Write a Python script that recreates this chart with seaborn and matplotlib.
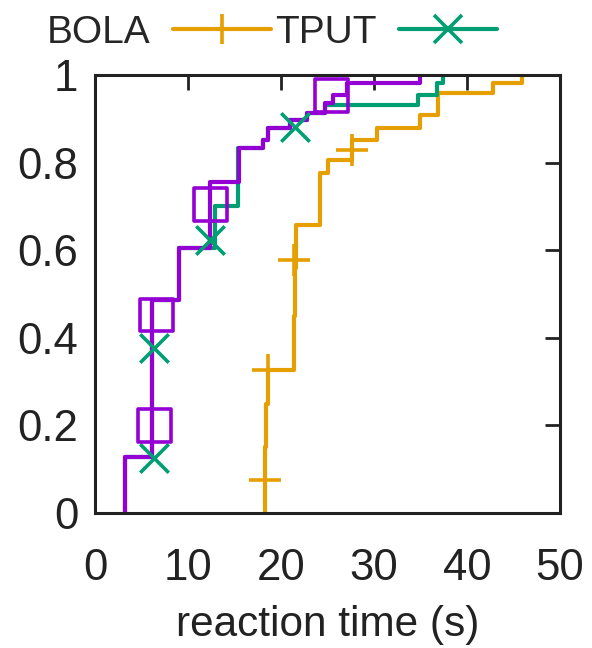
import matplotlib
matplotlib.use("Agg")
import matplotlib.pyplot as plt
from matplotlib.lines import Line2D
from matplotlib.ticker import FuncFormatter
import seaborn as sns

# step CDFs: at each x the curve jumps to the given y (steps-post)
bola_x = [18.3, 18.3, 18.4, 18.6, 21.4, 21.5, 21.6, 24.2, 25.1, 27.6, 30.3, 34.9, 36.9, 42.8, 45.9]
bola_y = [0.0, 0.15, 0.25, 0.326, 0.45, 0.56, 0.658, 0.776, 0.806, 0.852, 0.879, 0.909, 0.959, 0.982, 1.0]
tput_x = [3.2, 3.2, 6.1, 9.0, 12.9, 15.4, 18.1, 18.6, 21.0, 22.8, 24.7, 34.7, 36.8, 37.4]
tput_y = [0.0, 0.128, 0.486, 0.605, 0.70, 0.833, 0.852, 0.879, 0.897, 0.913, 0.932, 0.954, 0.982, 1.0]
third_x = [3.2, 3.2, 6.1, 9.0, 12.4, 15.5, 18.1, 18.6, 21.0, 22.8, 24.7, 25.6, 27.1, 34.9]
third_y = [0.0, 0.128, 0.486, 0.605, 0.756, 0.833, 0.852, 0.879, 0.897, 0.913, 0.936, 0.954, 0.982, 1.0]

# marker points (gnuplot pointinterval)
bola_mx = [18.3, 18.6, 21.4, 27.6]
bola_my = [0.075, 0.326, 0.578, 0.829]
tput_mx = [6.3, 6.3, 12.4, 21.5]
tput_my = [0.126, 0.377, 0.623, 0.882]
third_mx = [6.4, 6.6, 12.4, 25.4]
third_my = [0.20, 0.452, 0.705, 0.953]

xticks = [0, 10, 20, 30, 40, 50]
yticks = [0, 0.2, 0.4, 0.6, 0.8, 1]

c_bola = '#E69F00'
c_tput = '#009E73'
c_third = '#9400D3'
lw = 3.0

sns.set_style('white')
plt.rcParams['font.family'] = ['Liberation Sans', 'DejaVu Sans']

fig = plt.figure(figsize=(5.92, 6.48), dpi=100)
ax = fig.add_axes([95/592, 135/648, 465/592, 438/648])

for xs, ys, c in [(bola_x, bola_y, c_bola), (tput_x, tput_y, c_tput), (third_x, third_y, c_third)]:
    sns.lineplot(x=xs, y=ys, ax=ax, color=c, lw=lw, drawstyle='steps-post',
                 estimator=None, sort=False)

sns.scatterplot(x=bola_mx, y=bola_my, ax=ax, marker='+', s=520, color=c_bola, linewidth=2.6, zorder=3)
sns.scatterplot(x=tput_mx, y=tput_my, ax=ax, marker='x', s=420, color=c_tput, linewidth=2.6, zorder=3)
sns.scatterplot(x=third_mx, y=third_my, ax=ax, marker='s', s=560, facecolors='none',
                edgecolor=c_third, linewidth=2.6, zorder=4)

ax.set_xlim(0, 50)
ax.set_ylim(0, 1)
ax.set_xticks(xticks)
ax.set_yticks(yticks)
ax.yaxis.set_major_formatter(FuncFormatter(lambda v, p: '%g' % v))
ax.tick_params(direction='in', length=11, width=2, top=True, right=True,
               labelsize=31.5, colors='#222222')
ax.tick_params(axis='x', pad=25)
ax.tick_params(axis='y', pad=12)
for s in ax.spines.values():
    s.set_linewidth(2.2)
    s.set_color('#222222')
ax.set_xlabel('reaction time (s)', fontsize=30.5, color='#222222', labelpad=12)

handles = [Line2D([], [], color=c_bola, lw=lw, marker='+', ms=22, mew=2.6),
           Line2D([], [], color=c_tput, lw=lw, marker='x', ms=20, mew=2.6)]
fig.legend(handles, ['BOLA', 'TPUT'], loc='center left', bbox_to_anchor=(27/592, 1 - 33/648),
           ncol=2, frameon=False, markerfirst=False, fontsize=28, borderpad=0,
           handlelength=2.52, handletextpad=0.59, columnspacing=0.1)

fig.savefig('out.png', dpi=100)
